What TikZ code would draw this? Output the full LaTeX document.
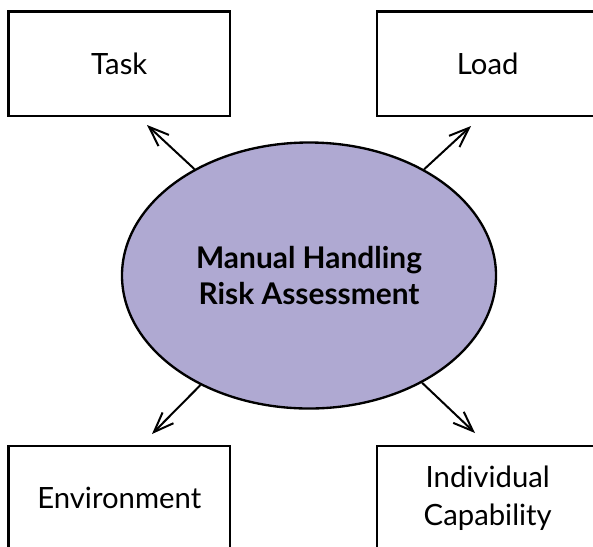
\documentclass[tikz,border=0pt]{standalone}
\usepackage{fontspec}
\setmainfont{Lato}
\usetikzlibrary{shapes, arrows.meta, positioning, calc}
\definecolor{hubfill}{RGB}{175,169,210}

\begin{document}
\begin{tikzpicture}[x=0.03cm, y=-0.03cm, >={Straight Barb[length=6mm, width=4.6mm]},
    factor/.style={draw, rectangle, line width=2.4pt, text centered, align=center, minimum width=6.64cm, minimum height=3.14cm, font=\fontsize{25}{33}\selectfont},
    hub/.style={draw, ellipse, line width=2pt, fill=hubfill, inner sep=0pt, minimum width=11.22cm, minimum height=7.98cm, align=center, font=\bfseries\fontsize{25.5}{30}\selectfont},
    link/.style={->, line width=1.7pt}]
    \useasboundingbox (0,0) rectangle (593,546);
    % Nodes
    \node (hra) [hub] at (309,275.5) {Manual Handling\\Risk Assessment};
    \node (task) [factor] at (119.25,63.75) {Task};
    \node (load) [factor] at (487.75,63.75) {Load};
    \node (env) [factor] at (119.25,498.25) {Environment};
    \node (indiv) [factor] at (487.75,498.25) {Individual\\Capability};
    % Arrow tips
    \coordinate (taskTip) at (147,125);
    \coordinate (loadTip) at (471,126);
    \coordinate (envTip) at (152,434);
    \coordinate (indivTip) at (475,433);
    % Arrows
    \draw[link] (hra) -- (taskTip);
    \draw[link] (hra) -- (loadTip);
    \draw[link] (hra) -- (envTip);
    \draw[link] (hra) -- (indivTip);
\end{tikzpicture}
\end{document}
